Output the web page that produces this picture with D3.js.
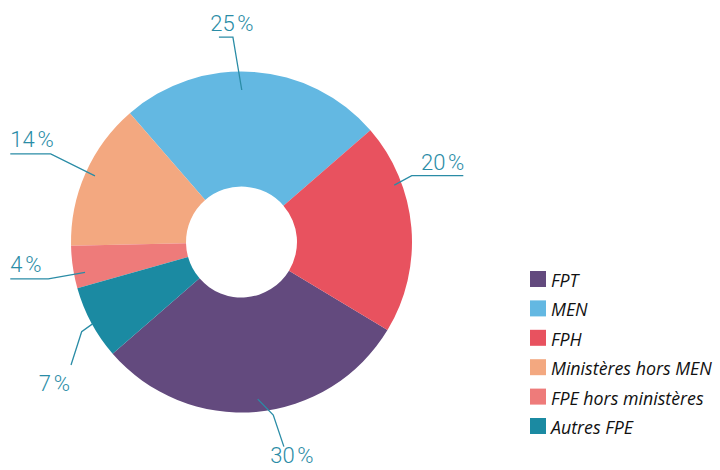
<!DOCTYPE html>
<html lang="fr">
<head>
<meta charset="UTF-8">
<title>Répartition des effectifs</title>
<style>
  body { margin: 0; background: #fff; }
  .pct { font-family: Roboto, "Open Sans", sans-serif; font-weight: 300; fill: #2a8ca6; }
  .leg { font-family: "Open Sans", sans-serif; font-style: italic; fill: #111; }
</style>
</head>
<body>
<div id="chart"></div>
<script src="https://d3js.org/d3.v7.min.js"></script>
<script>
  // legend order
  const categories = ["FPT", "MEN", "FPH", "Ministères hors MEN", "FPE hors ministères", "Autres FPE"];
  const shares = [30, 25, 20, 14, 4, 7];
  const colors = ["#634a7e", "#63b8e2", "#e8525f", "#f3a880", "#ee7b7a", "#1b8aa2"];
  // order of the slices round the ring, clockwise from MEN
  const ringOrder = ["MEN", "FPH", "FPT", "Autres FPE", "FPE hors ministères", "Ministères hors MEN"];

  const w = 720, h = 470;
  const cx = 241.5, cy = 242;
  const rOuter = 170.5, rInner = 55.5;
  const rad = Math.PI / 180;

  // leader line layout: nudge of the start angle (deg), start radius, elbow (deg, radius),
  // tail: horizontal run or polar end, label offset from the tail end
  const labelLayout = {
    "MEN":                 {nudge: -4,   r0: 152, elbow: [-2.4, 205],  run: -14,  anchor: "middle", dx: -1,  dy: -6},
    "FPH":                 {nudge: -15.5, r0: 163, elbow: [68.7, 182.7], run: 51.6, anchor: "end",  dx: 1,   dy: -6},
    "FPT":                 {nudge: -1,   r0: 158, elbow: [169.6, 176], end: [168.3, 209], anchor: "middle", dx: 8, dy: 16.5},
    "Autres FPE":          {nudge: -0.5, r0: 170, elbow: [240.7, 183.3], end: [234.2, 210.2], anchor: "end", dx: -1, dy: 26.5},
    "FPE hors ministères": {nudge: -2.5, r0: 159.4, elbow: [259.2, 196.7], run: -38, anchor: "start", dx: 0, dy: -7},
    "Ministères hors MEN": {nudge: 0.4,  r0: 160.8, elbow: [294.8, 210.2], run: -40.4, anchor: "start", dx: 0, dy: -6.5}
  };

  const rows = categories.map((c, i) => ({cat: c, value: shares[i], color: colors[i]}));

  const pie = d3.pie()
    .value(d => d.value)
    .sort((a, b) => ringOrder.indexOf(a.cat) - ringOrder.indexOf(b.cat))
    .startAngle(-40.9 * rad)
    .endAngle((360 - 40.9) * rad);

  const arc = d3.arc().innerRadius(rInner).outerRadius(rOuter);

  const svg = d3.select("#chart").append("svg")
    .attr("width", w)
    .attr("height", h);

  const g = svg.append("g").attr("transform", `translate(${cx},${cy})`);

  const slices = pie(rows);

  g.selectAll("path.slice")
    .data(slices)
    .enter()
    .append("path")
    .attr("class", "slice")
    .attr("d", arc)
    .attr("fill", d => d.data.color);

  // leader lines + labels
  slices.forEach(s => {
    const lay = labelLayout[s.data.cat];
    const mid = (s.startAngle + s.endAngle) / 2 + lay.nudge * rad;
    const p0 = d3.pointRadial(mid, lay.r0);
    const p1 = d3.pointRadial(lay.elbow[0] * rad, lay.elbow[1]);
    const p2 = lay.end ? d3.pointRadial(lay.end[0] * rad, lay.end[1]) : [p1[0] + lay.run, p1[1]];

    g.append("path")
      .attr("d", d3.line()([p0, p1, p2]))
      .attr("fill", "none")
      .attr("stroke", "#2a8ca6")
      .attr("stroke-width", 1.3);

    const tx = lay.anchor === "middle" && !lay.end ? p1[0] : p2[0];
    g.append("text")
      .attr("class", "pct")
      .attr("x", tx + lay.dx)
      .attr("y", p2[1] + lay.dy)
      .attr("text-anchor", lay.anchor)
      .attr("font-size", 22)
      .text(s.data.value + "\u202f%");
  });

  // legend
  const legend = svg.append("g").attr("transform", "translate(530,271)");
  const item = legend.selectAll("g")
    .data(rows)
    .enter()
    .append("g")
    .attr("transform", (d, i) => `translate(0,${i * 29.4})`);

  item.append("rect")
    .attr("width", 16)
    .attr("height", 16)
    .attr("fill", d => d.color);

  item.append("text")
    .attr("class", "leg")
    .attr("x", 21)
    .attr("y", 16)
    .attr("font-size", 17.8)
    .text(d => d.cat);
</script>
</body>
</html>
